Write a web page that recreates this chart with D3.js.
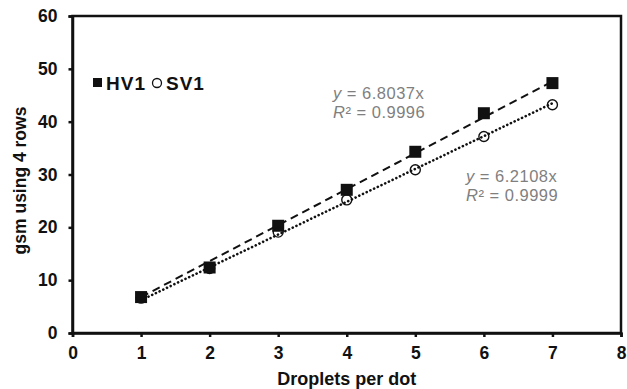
<!DOCTYPE html>
<html>
<head>
<meta charset="utf-8">
<script src="https://cdn.jsdelivr.net/npm/d3@7"></script>
<style>
  body { margin: 0; background: #fff; }
  text { font-family: "Liberation Sans", Arial, sans-serif; }
</style>
</head>
<body>
<script>
// data
var droplets = [1, 2, 3, 4, 5, 6, 7];
var hv1 = [6.8, 12.4, 20.3, 27.1, 34.3, 41.6, 47.3];
var sv1 = [6.6, 12.2, 19.1, 25.2, 30.9, 37.2, 43.2];
var hv1Slope = 6.8037, hv1R2 = '0.9996';
var sv1Slope = 6.2108, sv1R2 = '0.9999';
var xTicks = [0, 1, 2, 3, 4, 5, 6, 7, 8];
var yTicks = [0, 10, 20, 30, 40, 50, 60];

var W = 627, H = 389;
var m = {left: 72.5, right: 6, top: 16, bottom: 56};

var svg = d3.select('body').append('svg')
  .attr('width', W).attr('height', H);

var x = d3.scaleLinear().domain([0, 8]).range([m.left, W - m.right]);
var y = d3.scaleLinear().domain([0, 60]).range([H - m.bottom, m.top]);

// frame
svg.append('rect')
  .attr('x', x(0)).attr('y', y(60))
  .attr('width', x(8) - x(0)).attr('height', y(0) - y(60))
  .attr('fill', 'none').attr('stroke', '#111').attr('stroke-width', 2.5);

var xAxis = svg.append('g')
  .attr('transform', 'translate(0,' + y(0) + ')')
  .call(d3.axisBottom(x).tickValues(xTicks).tickSize(4).tickPadding(10));
var yAxis = svg.append('g')
  .attr('transform', 'translate(' + x(0) + ',0)')
  .call(d3.axisLeft(y).tickValues(yTicks).tickSize(4).tickPadding(11));

[xAxis, yAxis].forEach(function(a) {
  a.select('.domain').attr('stroke', '#111').attr('stroke-width', 2.5);
  a.selectAll('.tick line').attr('stroke', '#111').attr('stroke-width', 2.5);
  a.selectAll('.tick text')
    .attr('fill', '#111')
    .style('font-size', '17.5px').style('font-weight', 'bold')
    .style('font-family', '"Liberation Sans", Arial, sans-serif');
});

// trendlines (forced through origin)
var trend = function(slope, dash, cap, w) {
  svg.append('line')
    .attr('x1', x(droplets[0])).attr('y1', y(slope * droplets[0]))
    .attr('x2', x(droplets[droplets.length - 1]))
    .attr('y2', y(slope * droplets[droplets.length - 1]))
    .attr('stroke', '#111').attr('stroke-width', w)
    .attr('stroke-dasharray', dash).attr('stroke-linecap', cap);
};
trend(hv1Slope, '8,5', 'butt', 2);
trend(sv1Slope, '0.1,4', 'round', 2.6);

// markers
svg.selectAll('rect.hv1').data(droplets).enter()
  .append('rect').attr('class', 'hv1')
  .attr('x', function(d) { return x(d) - 6; })
  .attr('y', function(d, i) { return y(hv1[i]) - 6; })
  .attr('width', 12).attr('height', 12)
  .attr('fill', '#111');

svg.selectAll('circle.sv1').data(droplets).enter()
  .append('circle').attr('class', 'sv1')
  .attr('cx', function(d) { return x(d); })
  .attr('cy', function(d, i) { return y(sv1[i]); })
  .attr('r', 5)
  .attr('fill', 'none').attr('stroke', '#111').attr('stroke-width', 1.4);

// legend
svg.append('rect').attr('x', 93).attr('y', 78).attr('width', 9).attr('height', 9).attr('fill', '#111');
svg.append('text').attr('x', 106).attr('y', 90).text('HV1')
  .style('font-size', '19px').style('font-weight', 'bold').style('letter-spacing', '1px')
  .attr('fill', '#111');
svg.append('circle').attr('cx', 157).attr('cy', 83).attr('r', 4.5)
  .attr('fill', 'none').attr('stroke', '#111').attr('stroke-width', 1.3);
svg.append('text').attr('x', 166).attr('y', 90).text('SV1')
  .style('font-size', '19px').style('font-weight', 'bold').style('letter-spacing', '1px')
  .attr('fill', '#111');

// equations
var eq = function(px, py, slope, r2) {
  var t1 = svg.append('text').attr('x', px).attr('y', py)
    .style('font-size', '16.5px').style('letter-spacing', '0.5px').attr('fill', '#7f7f7f');
  t1.append('tspan').style('font-style', 'italic').text('y');
  t1.append('tspan').text(' = ' + slope + 'x');
  var t2 = svg.append('text').attr('x', px).attr('y', py + 19)
    .style('font-size', '16.5px').style('letter-spacing', '0.5px').attr('fill', '#7f7f7f');
  t2.append('tspan').style('font-style', 'italic').text('R');
  t2.append('tspan').text('² = ' + r2);
};
eq(333, 99, hv1Slope, hv1R2);
eq(466, 182, sv1Slope, sv1R2);

// axis titles
svg.append('text')
  .attr('x', (x(0) + x(8)) / 2).attr('y', 385)
  .attr('text-anchor', 'middle')
  .style('font-size', '18px').style('font-weight', 'bold').attr('fill', '#111')
  .text('Droplets per dot');

svg.append('text')
  .attr('transform', 'translate(26,' + (y(30) + 6) + ') rotate(-90)')
  .attr('text-anchor', 'middle')
  .style('font-size', '17.5px').style('font-weight', 'bold').attr('fill', '#111')
  .text('gsm using 4 rows');
</script>
</body>
</html>
